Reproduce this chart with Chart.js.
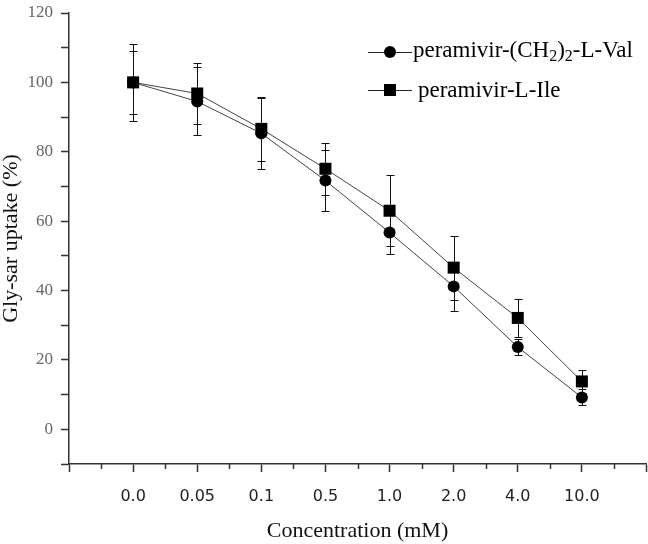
<!DOCTYPE html>
<html>
<head>
<meta charset="utf-8">
<script src="https://cdn.jsdelivr.net/npm/chart.js@4.4.1/dist/chart.umd.min.js"></script>
<style>
  html, body { margin: 0; padding: 0; background: #fff; }
  #wrap { width: 648px; height: 544px; }
</style>
</head>
<body>
<div id="wrap"><canvas id="chart" width="648" height="544"></canvas></div>
<script>
// data
const concLabels = ['0.0', '0.05', '0.1', '0.5', '1.0', '2.0', '4.0', '10.0'];
const valMeans = [100, 94.5, 85.3, 71.7, 56.7, 41.2, 23.7, 9.2];
const valErr   = [9, 9.8, 10.2, 8.7, 6.2, 7, 2.3, 2.3];
const ileMeans = [100, 96.8, 86.6, 75.1, 63, 46.6, 32.1, 13.8];
const ileErr   = [11, 8.7, 9.3, 7.5, 10.3, 9.2, 5.5, 3.2];
const yTicksShown = [0, 20, 40, 60, 80, 100, 120];

const serif = '"Liberation Serif", "Times New Roman", serif';

// error bars, drawn under the markers
const errorBars = {
  id: 'errorBars',
  beforeDatasetsDraw(chart) {
    const { ctx, scales: { x, y } } = chart;
    ctx.save();
    ctx.strokeStyle = '#111';
    ctx.lineWidth = 1;
    [[valMeans, valErr], [ileMeans, ileErr]].forEach(([means, errs]) => {
      means.forEach((m, i) => {
        const px = Math.round(x.getPixelForValue(i)) + 0.5;
        const top = Math.round(y.getPixelForValue(m + errs[i])) + 0.5;
        const bot = Math.round(y.getPixelForValue(m - errs[i])) + 0.5;
        ctx.beginPath();
        ctx.moveTo(px, top); ctx.lineTo(px, bot);
        ctx.moveTo(px - 4, top); ctx.lineTo(px + 4, top);
        ctx.moveTo(px - 4, bot); ctx.lineTo(px + 4, bot);
        ctx.stroke();
      });
    });
    ctx.restore();
  }
};

// short minor ticks on the x axis + the legend box
const extras = {
  id: 'extras',
  afterDraw(chart) {
    const { ctx, scales: { x } } = chart;
    ctx.save();
    ctx.strokeStyle = '#333';
    ctx.lineWidth = 1.5;
    x.ticks.forEach(t => {
      if (Number.isInteger(t.value)) return;
      const px = Math.round(x.getPixelForValue(t.value)) + 0.5;
      ctx.beginPath();
      ctx.moveTo(px, x.top);
      ctx.lineTo(px, x.top + 5);
      ctx.stroke();
    });

    // legend
    const items = [
      { y: 52, base: 57, style: 'circle', parts: [['peramivir-(CH', 0], ['2', 1], [')', 0], ['2', 1], ['-L-Val', 0]], tx: 413 },
      { y: 90, base: 97, style: 'rect', parts: [['peramivir-L-Ile', 0]], tx: 418 }
    ];
    items.forEach(it => {
      ctx.strokeStyle = '#222';
      ctx.lineWidth = 1;
      ctx.beginPath();
      ctx.moveTo(368, it.y + 0.5);
      ctx.lineTo(412, it.y + 0.5);
      ctx.stroke();
      ctx.fillStyle = '#000';
      ctx.beginPath();
      if (it.style === 'circle') ctx.arc(390, it.y, 6, 0, Math.PI * 2);
      else ctx.rect(384, it.y - 6, 12, 12);
      ctx.fill();
      let cx = it.tx;
      ctx.textBaseline = 'alphabetic';
      ctx.textAlign = 'left';
      ctx.fillStyle = '#000';
      it.parts.forEach(([txt, sub]) => {
        ctx.font = (sub ? '16px ' : '23px ') + serif;
        ctx.fillText(txt, cx, it.base + (sub ? 4 : 0));
        cx += ctx.measureText(txt).width;
      });
    });
    ctx.restore();
  }
};

const ctx = document.getElementById('chart');
new Chart(ctx, {
  type: 'line',
  data: {
    datasets: [
      {
        label: 'peramivir-(CH2)2-L-Val',
        data: valMeans.map((v, i) => ({ x: i, y: v })),
        borderColor: '#444',
        borderWidth: 1,
        pointStyle: 'circle',
        pointRadius: 6,
        pointBackgroundColor: '#000',
        pointBorderColor: '#000',
        pointBorderWidth: 0
      },
      {
        label: 'peramivir-L-Ile',
        data: ileMeans.map((v, i) => ({ x: i, y: v })),
        borderColor: '#444',
        borderWidth: 1,
        pointStyle: 'rect',
        pointRadius: 8.5,
        pointBackgroundColor: '#000',
        pointBorderColor: '#000',
        pointBorderWidth: 0
      }
    ]
  },
  options: {
    responsive: false,
    animation: false,
    layout: { autoPadding: false, padding: { top: 13, right: 2, left: 0, bottom: 0 } },
    plugins: {
      legend: { display: false },
      tooltip: { enabled: false }
    },
    scales: {
      x: {
        type: 'linear',
        min: -1,
        max: 8,
        afterFit: s => { s.height = 80; s.paddingLeft = 0; s.paddingRight = 0; },
        border: { color: '#333', width: 1.5 },
        grid: {
          drawOnChartArea: false,
          tickLength: 8,
          tickWidth: 1.5,
          tickColor: c => Number.isInteger(c.tick.value) ? '#333' : 'rgba(0,0,0,0)'
        },
        ticks: {
          stepSize: 0.5,
          autoSkip: false,
          maxRotation: 0,
          padding: 15,
          color: '#222',
          font: { family: '"DejaVu Sans", Verdana, sans-serif', size: 16 },
          callback: v => (Number.isInteger(v) && v >= 0 && v < concLabels.length) ? concLabels[v] : ''
        },
        title: {
          display: true,
          text: 'Concentration (mM)',
          color: '#111',
          padding: { top: 0, bottom: 0 },
          font: { family: serif, size: 22 }
        }
      },
      y: {
        min: -10,
        max: 120,
        afterFit: s => { s.width = 69; s.paddingTop = 0; s.paddingBottom = 0; },
        border: { color: '#333', width: 1.5 },
        grid: {
          drawOnChartArea: false,
          tickLength: 8,
          tickWidth: 1.5,
          tickColor: '#333'
        },
        ticks: {
          stepSize: 10,
          padding: 8,
          color: '#666',
          font: { family: serif, size: 17 },
          callback: v => yTicksShown.includes(v) ? v : ''
        },
        title: {
          display: true,
          text: 'Gly-sar uptake (%)',
          color: '#111',
          padding: { top: -2, bottom: 0 },
          font: { family: serif, size: 22 }
        }
      }
    }
  },
  plugins: [errorBars, extras]
});
</script>
</body>
</html>
